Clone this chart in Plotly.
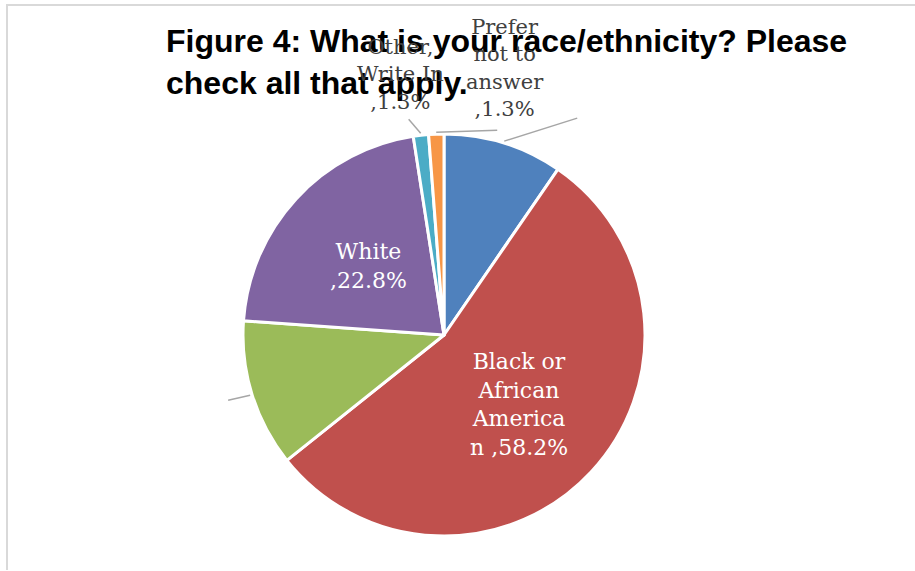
import numpy as np
import plotly.graph_objects as go

# ---- data ----
categories = ["Asian", "Black or African American", "Hispanic or Latino",
              "White", "Other, Write In", "Prefer not to answer"]
values = [10.2, 58.2, 12.6, 22.8, 1.3, 1.3]
inside_text = {1: "Black or<br>African<br>America<br>n ,58.2%",
               3: "White<br>,22.8%"}
outside_text = {4: "Other,<br>Write In<br>,1.3%",
                5: "Prefer<br>not to<br>answer<br>,1.3%"}
colors = ["#4F81BD", "#C0504D", "#9BBB59", "#8064A2", "#4BACC6", "#F79646"]

W, H = 915, 571
CX, CY, R = 444, 335, 201
dom_x = [(CX - R) / W, (CX + R) / W]
dom_y = [1 - (CY + R) / H, 1 - (CY - R) / H]

fig = go.Figure(go.Pie(
    labels=categories, values=values, sort=False, direction="clockwise",
    rotation=0, marker=dict(colors=colors, line=dict(color="white", width=3)),
    textinfo="none",
    domain=dict(x=dom_x, y=dom_y), showlegend=False,
    hovertemplate="%{label}: %{value}%<extra></extra>",
))

# slice mid-angles computed from the data
vals = np.array(values)
cum = np.cumsum(vals) - vals / 2
mid_ang = cum / vals.sum() * 2 * np.pi
def polar_point(i, rad):
    px = CX + rad * np.sin(mid_ang[i])
    py = CY - rad * np.cos(mid_ang[i])
    return px, py

shapes = []
leader_offsets = {0: (73, -23), 2: (-22, 5), 4: (-12, -14), 5: (61, -2)}
for i, (dx, dy) in leader_offsets.items():
    px, py = polar_point(i, R + 2)
    shapes.append(dict(type="line", xref="paper", yref="paper",
                       x0=px / W, y0=1 - py / H, x1=(px + dx) / W, y1=1 - (py + dy) / H,
                       line=dict(color="#A6A6A6", width=1.5)))

# chart border (top and left edges visible)
shapes.append(dict(type="line", xref="paper", yref="paper", x0=6 / W, x1=1,
                   y0=1 - 5 / H, y1=1 - 5 / H, line=dict(color="#D9D9D9", width=2)))
shapes.append(dict(type="line", xref="paper", yref="paper", x0=7 / W, x1=7 / W,
                   y0=1 - 5 / H, y1=1 - 570 / H, line=dict(color="#D9D9D9", width=2)))

annotations = []
# inside labels at half radius along each slice's mid-angle
for i, txt in inside_text.items():
    px, py = polar_point(i, 0.51 * R)
    annotations.append(dict(text=txt, x=px / W, y=1 - py / H, xref="paper", yref="paper",
                            showarrow=False, xanchor="center", yanchor="middle",
                            font=dict(family="DejaVu Serif", size=22, color="white")))

label_pos = {4: (400, 74), 5: (505, 68)}
for i, txt in outside_text.items():
    lx, ly = label_pos[i]
    annotations.append(dict(text=txt, x=lx / W, y=1 - ly / H, xref="paper", yref="paper",
                            showarrow=False, xanchor="center", yanchor="middle",
                            font=dict(family="DejaVu Serif", size=21, color="#404040")))

fig.update_layout(
    width=W, height=H, margin=dict(l=0, r=0, t=0, b=0),
    paper_bgcolor="white", plot_bgcolor="white",
    title=dict(text="Figure 4: What is your race/ethnicity? Please<br>check all that apply.",
               x=166 / W, xanchor="left", xref="container",
               y=1 - 52 / H, yanchor="top", yref="container",
               font=dict(family="Liberation Sans, Arial", size=32, color="black", weight="bold")),
    shapes=shapes, annotations=annotations,
)

fig.write_html("out.html")
